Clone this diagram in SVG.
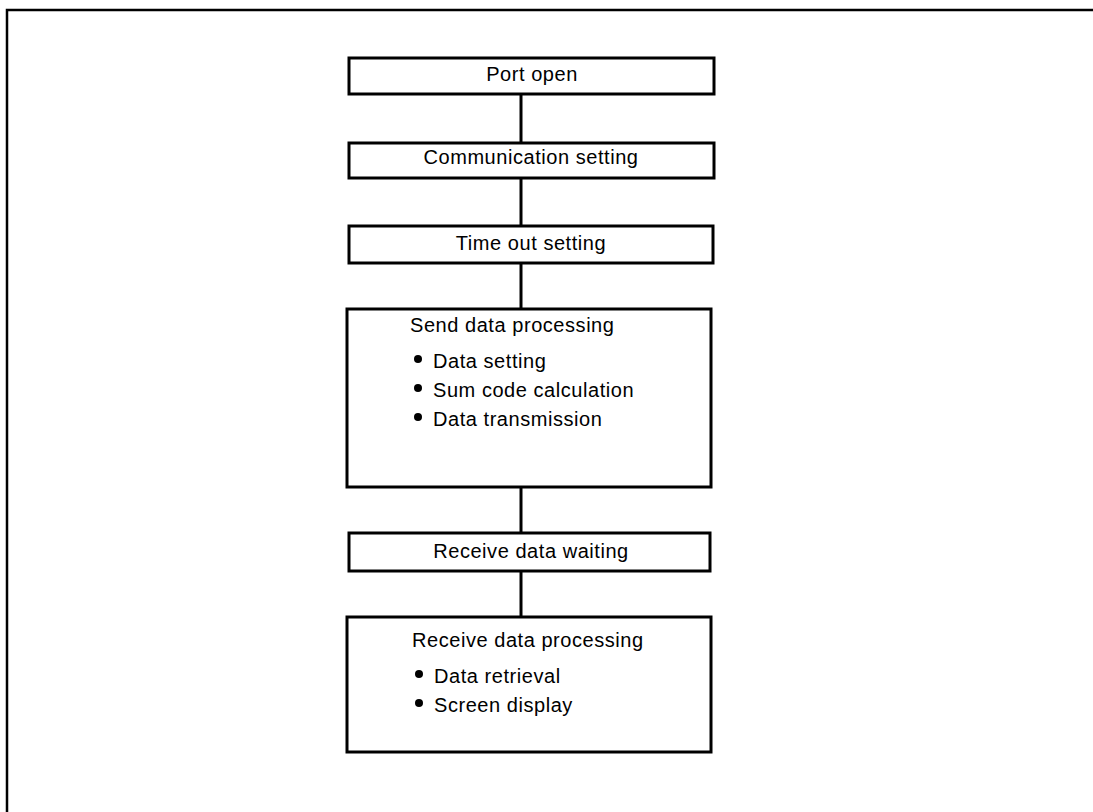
<svg xmlns="http://www.w3.org/2000/svg" width="1093" height="812" viewBox="0 0 1093 812">
<style>
.box{fill:#fff;stroke:#000;stroke-width:3}
.ln{stroke:#000;stroke-width:3;fill:none}
.t{font-family:"Liberation Sans",Arial,sans-serif;font-size:20px;letter-spacing:0.55px;fill:#000}
.c{text-anchor:middle}
.frame{stroke:#000;stroke-width:2.5;fill:none}
</style>
<rect width="1093" height="812" fill="#fff"/>
<path class="frame" d="M7 812 V10 H1093"/>
<g id="connectors">
<line class="ln" x1="521" y1="94" x2="521" y2="143"/>
<line class="ln" x1="521" y1="178" x2="521" y2="226"/>
<line class="ln" x1="521" y1="263" x2="521" y2="309"/>
<line class="ln" x1="521" y1="487" x2="521" y2="533"/>
<line class="ln" x1="521" y1="571" x2="521" y2="617"/>
</g>
<g id="port-open">
<rect class="box" x="349" y="58" width="365" height="36"/>
<text class="t c" x="532" y="81">Port open</text>
</g>
<g id="communication-setting">
<rect class="box" x="349" y="143" width="365" height="35"/>
<text class="t c" x="531" y="164">Communication setting</text>
</g>
<g id="time-out-setting">
<rect class="box" x="349" y="226" width="364" height="37"/>
<text class="t c" x="531" y="250">Time out setting</text>
</g>
<g id="send-data-processing">
<rect class="box" x="347" y="309" width="364" height="178"/>
<text class="t" x="410" y="332">Send data processing</text>
<circle cx="418" cy="359" r="4"/>
<text class="t" x="433" y="368">Data setting</text>
<circle cx="418" cy="388" r="4"/>
<text class="t" x="433" y="397">Sum code calculation</text>
<circle cx="418" cy="417" r="4"/>
<text class="t" x="433" y="426">Data transmission</text>
</g>
<g id="receive-data-waiting">
<rect class="box" x="349" y="533" width="361" height="38"/>
<text class="t c" x="531" y="558">Receive data waiting</text>
</g>
<g id="receive-data-processing">
<rect class="box" x="347" y="617" width="364" height="135"/>
<text class="t" x="412" y="647">Receive data processing</text>
<circle cx="419" cy="674" r="4"/>
<text class="t" x="434" y="683">Data retrieval</text>
<circle cx="419" cy="703" r="4"/>
<text class="t" x="434" y="712">Screen display</text>
</g>
</svg>
